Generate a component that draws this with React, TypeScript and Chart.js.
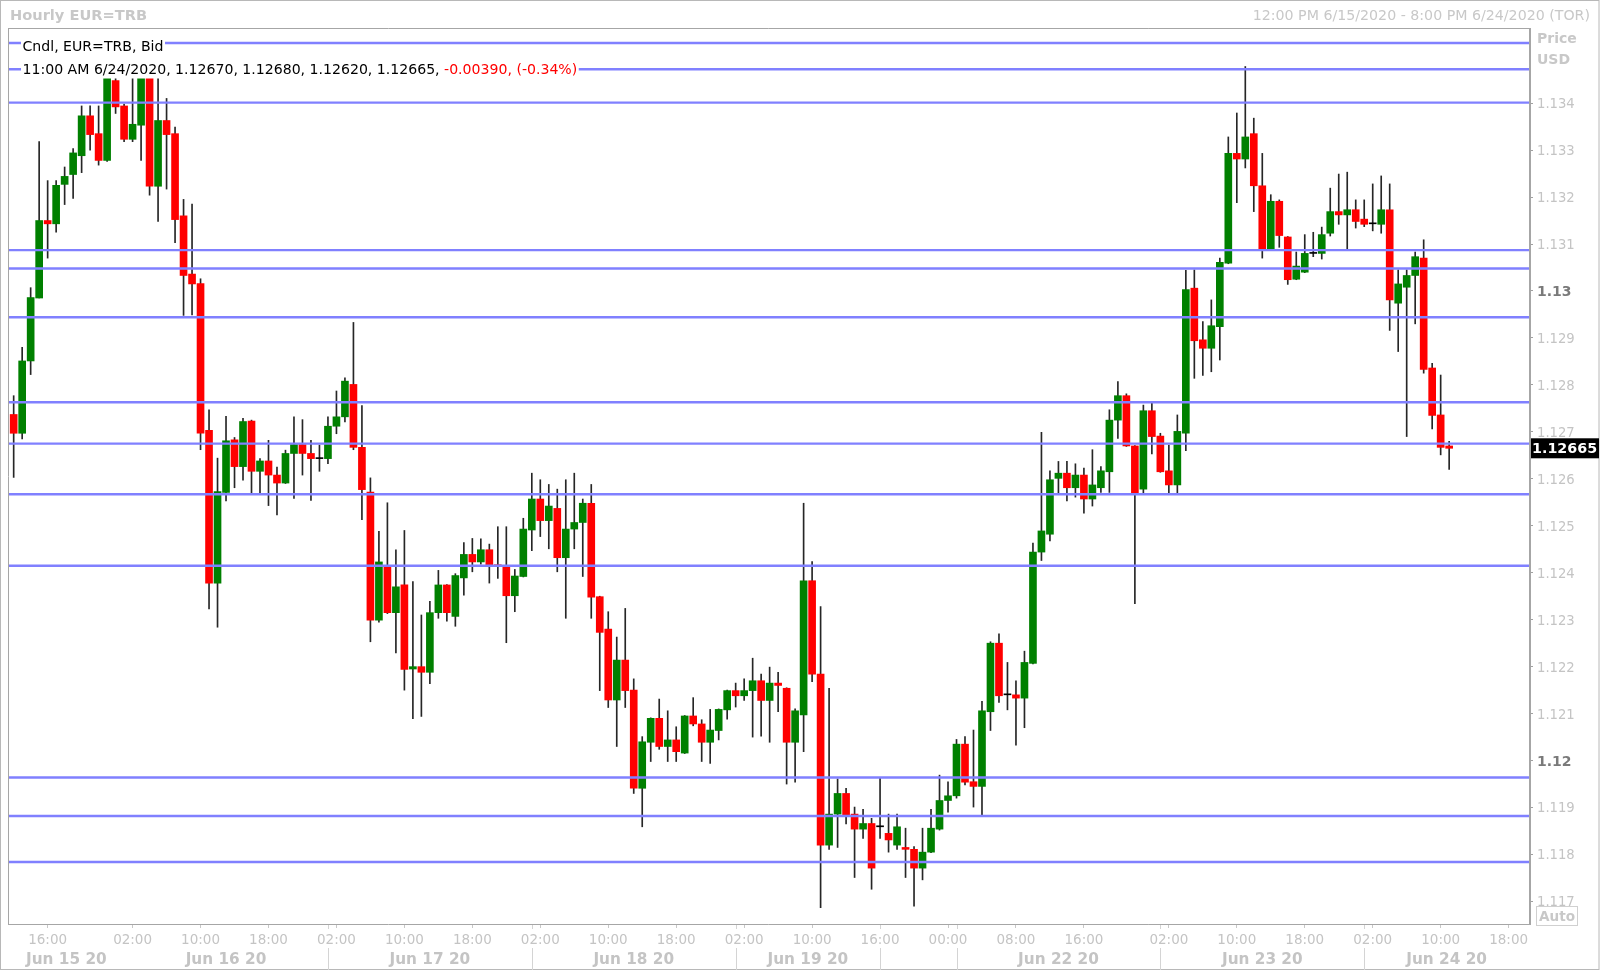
import React, { useEffect, useRef } from 'react';
import { Chart, registerables } from 'chart.js';

Chart.register(...registerables);

// ---------- data ----------
const opens = [
  1.12737,1.12697,1.12851,1.12985,1.13150,1.13143,1.13227,1.13248,1.13288,1.13373,
  1.13335,1.13278,1.13448,1.13394,1.13323,1.13353,1.13470,1.13223,1.13363,1.13335,
  1.13160,1.13036,1.13016,1.12703,1.12378,1.12571,1.12683,1.12626,1.12723,1.12616,
  1.12638,1.12608,1.12591,1.12654,1.12673,1.12654,1.12643,1.12643,1.12712,1.12732,
  1.12801,1.12667,1.12572,1.12299,1.12413,1.12315,1.12374,1.12195,1.12200,1.12188,
  1.12315,1.12374,1.12307,1.12389,1.12439,1.12423,1.12449,1.12417,1.12413,1.12351,
  1.12392,1.12491,1.12557,1.12511,1.12537,1.12432,1.12493,1.12507,1.12548,1.12349,
  1.12280,1.12129,1.12214,1.12150,1.11941,1.12039,1.12090,1.12030,1.12044,1.12016,
  1.12095,1.12078,1.12039,1.12064,1.12108,1.12149,1.12138,1.12149,1.12170,1.12128,
  1.12165,1.12154,1.12039,1.12097,1.12383,1.12184,1.11820,1.11886,1.11930,1.11886,
  1.11854,1.11866,1.11859,1.11845,1.11820,1.11815,1.11811,1.11771,1.11805,1.11854,
  1.11915,1.11925,1.12035,1.11955,1.11945,1.12104,1.12250,1.12140,1.12140,1.12133,
  1.12207,1.12444,1.12482,1.12601,1.12612,1.12581,1.12608,1.12557,1.12581,1.12615,
  1.12725,1.12777,1.12670,1.12578,1.12745,1.12691,1.12617,1.12587,1.12697,1.13006,
  1.12896,1.12878,1.12924,1.13059,1.13293,1.13281,1.13335,1.13224,1.13089,1.13191,
  1.13115,1.13025,1.13040,1.13080,1.13080,1.13123,1.13169,1.13162,1.13173,1.13153,
  1.13143,1.13142,1.13173,1.12974,1.13008,1.13033,1.13070,1.12836,1.12736,1.12670,
];
const highs = [
  1.12777,1.12880,1.13007,1.13318,1.13235,1.13235,1.13264,1.13303,1.13394,1.13394,
  1.13394,1.13490,1.13470,1.13398,1.13470,1.13485,1.13490,1.13460,1.13410,1.13349,
  1.13195,1.13185,1.13026,1.12747,1.12644,1.12733,1.12688,1.12729,1.12725,1.12643,
  1.12682,1.12625,1.12661,1.12732,1.12726,1.12682,1.12672,1.12732,1.12787,1.12815,
  1.12933,1.12756,1.12602,1.12488,1.12549,1.12449,1.12490,1.12381,1.12310,1.12339,
  1.12405,1.12375,1.12398,1.12464,1.12473,1.12472,1.12461,1.12498,1.12498,1.12407,
  1.12516,1.12612,1.12598,1.12588,1.12578,1.12598,1.12612,1.12557,1.12588,1.12350,
  1.12317,1.12263,1.12324,1.12174,1.12051,1.12091,1.12131,1.12106,1.12072,1.12096,
  1.12134,1.12087,1.12109,1.12110,1.12150,1.12165,1.12174,1.12218,1.12184,1.12199,
  1.12188,1.12155,1.12110,1.12548,1.12424,1.12328,1.12154,1.11961,1.11941,1.11901,
  1.11896,1.11877,1.11962,1.11886,1.11886,1.11856,1.11817,1.11856,1.11896,1.11969,
  1.11955,1.12045,1.12051,1.12065,1.12126,1.12253,1.12270,1.12209,1.12170,1.12233,
  1.12463,1.12699,1.12617,1.12637,1.12637,1.12632,1.12623,1.12662,1.12626,1.12747,
  1.12807,1.12781,1.12671,1.12757,1.12761,1.12697,1.12672,1.12736,1.13044,1.13045,
  1.12935,1.12981,1.13070,1.13328,1.13379,1.13478,1.13368,1.13293,1.13205,1.13194,
  1.13116,1.13083,1.13120,1.13125,1.13136,1.13219,1.13249,1.13253,1.13194,1.13194,
  1.13228,1.13245,1.13228,1.13045,1.13045,1.13083,1.13109,1.12846,1.12821,1.12680,
];
const lows = [
  1.12603,1.12685,1.12822,1.12985,1.13070,1.13125,1.13184,1.13197,1.13252,1.13300,
  1.13268,1.13276,1.13378,1.13318,1.13318,1.13278,1.13204,1.13148,1.13217,1.13103,
  1.12948,1.12949,1.12662,1.12323,1.12284,1.12553,1.12581,1.12597,1.12570,1.12570,
  1.12543,1.12523,1.12590,1.12558,1.12608,1.12554,1.12616,1.12632,1.12696,1.12721,
  1.12662,1.12513,1.12253,1.12295,1.12313,1.12229,1.12150,1.12089,1.12094,1.12164,
  1.12303,1.12297,1.12286,1.12352,1.12402,1.12418,1.12378,1.12388,1.12251,1.12317,
  1.12391,1.12447,1.12477,1.12451,1.12402,1.12303,1.12451,1.12392,1.12303,1.12149,
  1.12113,1.12030,1.12113,1.11930,1.11859,1.11998,1.12024,1.11998,1.11998,1.12015,
  1.12074,1.11998,1.11994,1.12044,1.12088,1.12114,1.12128,1.12050,1.12052,1.12039,
  1.12104,1.11950,1.11954,1.12019,1.12168,1.11687,1.11811,1.11815,1.11865,1.11751,
  1.11834,1.11726,1.11834,1.11805,1.11811,1.11751,1.11690,1.11746,1.11804,1.11852,
  1.11890,1.11920,1.11948,1.11901,1.11884,1.12064,1.12124,1.12108,1.12033,1.12070,
  1.12206,1.12426,1.12468,1.12569,1.12553,1.12561,1.12527,1.12542,1.12571,1.12571,
  1.12686,1.12669,1.12334,1.12569,1.12653,1.12614,1.12569,1.12569,1.12660,1.12814,
  1.12820,1.12828,1.12853,1.13058,1.13188,1.13262,1.13169,1.13070,1.13088,1.13093,
  1.13014,1.13024,1.13039,1.13073,1.13068,1.13117,1.13142,1.13089,1.13134,1.13137,
  1.13128,1.13123,1.12916,1.12871,1.12690,1.12930,1.12825,1.12706,1.12651,1.12620,
];
const closes = [
  1.12697,1.12851,1.12986,1.13150,1.13143,1.13225,1.13244,1.13294,1.13373,1.13333,
  1.13278,1.13465,1.13392,1.13323,1.13355,1.13465,1.13223,1.13363,1.13333,1.13152,
  1.13033,1.13015,1.12697,1.12378,1.12573,1.12681,1.12626,1.12722,1.12616,1.12638,
  1.12608,1.12591,1.12654,1.12673,1.12654,1.12643,1.12643,1.12712,1.12732,1.12808,
  1.12667,1.12577,1.12299,1.12423,1.12315,1.12370,1.12194,1.12200,1.12188,1.12315,
  1.12374,1.12315,1.12394,1.12439,1.12423,1.12449,1.12417,1.12413,1.12351,1.12393,
  1.12493,1.12557,1.12511,1.12542,1.12432,1.12493,1.12507,1.12548,1.12348,1.12273,
  1.12129,1.12214,1.12149,1.11941,1.12040,1.12090,1.12030,1.12044,1.12019,1.12095,
  1.12078,1.12039,1.12065,1.12109,1.12149,1.12138,1.12149,1.12170,1.12128,1.12165,
  1.12160,1.12039,1.12106,1.12383,1.12184,1.11820,1.11886,1.11930,1.11884,1.11854,
  1.11866,1.11771,1.11859,1.11831,1.11859,1.11811,1.11771,1.11805,1.11856,1.11915,
  1.11925,1.12035,1.11954,1.11945,1.12106,1.12250,1.12138,1.12140,1.12133,1.12209,
  1.12444,1.12489,1.12598,1.12612,1.12581,1.12608,1.12557,1.12587,1.12617,1.12725,
  1.12777,1.12670,1.12569,1.12745,1.12690,1.12615,1.12587,1.12701,1.13003,1.12894,
  1.12878,1.12926,1.13061,1.13293,1.13281,1.13328,1.13224,1.13089,1.13191,1.13118,
  1.13024,1.13053,1.13080,1.13080,1.13120,1.13169,1.13162,1.13173,1.13148,1.13142,
  1.13143,1.13173,1.12981,1.13015,1.13033,1.13073,1.12833,1.12735,1.12667,1.12665,
];

// horizontal level lines (price)
const levels = [
  1.13528, 1.13472, 1.13401, 1.13087, 1.13048, 1.12944, 1.12763,
  1.12675, 1.12567, 1.12415, 1.11964, 1.11882, 1.11784,
];

// x axis (bar index) ticks and labels
const xTickIdx = [4, 14, 22, 30, 38, 46, 54, 62, 70, 78, 86, 94, 102, 110, 118, 126, 136, 144, 152, 160, 168, 176];
const xTickLabels = ['16:00', '02:00', '10:00', '18:00', '02:00', '10:00', '18:00', '02:00', '10:00', '18:00', '02:00',
  '10:00', '16:00', '00:00', '08:00', '16:00', '02:00', '10:00', '18:00', '02:00', '10:00', '18:00'];
const dayLabels = ['Jun 15 20', 'Jun 16 20', 'Jun 17 20', 'Jun 18 20', 'Jun 19 20', 'Jun 22 20', 'Jun 23 20', 'Jun 24 20'];
const dayCenters = [6.2, 25, 49, 73, 93.5, 123, 147, 168.7];
const daySeparators = [37, 61, 85, 102, 111, 135, 159];
const X_MIN = -0.55;
const X_MAX = 178.4;

// y axis
const yTicks = [1.117, 1.118, 1.119, 1.12, 1.121, 1.122, 1.123, 1.124, 1.125, 1.126, 1.127, 1.128, 1.129, 1.13, 1.131, 1.132, 1.133, 1.134];
const Y_MIN = 1.11652;
const Y_MAX = 1.1356;
const lastPrice = 1.12665;

// texts
const titleLeft = 'Hourly EUR=TRB';
const titleRight = '12:00 PM 6/15/2020 - 8:00 PM 6/24/2020 (TOR)';
const legend1 = 'Cndl, EUR=TRB, Bid';
const legend2a = '11:00 AM 6/24/2020, 1.12670, 1.12680, 1.12620, 1.12665, ';
const legend2b = '-0.00390, (-0.34%)';

const FONT = '"DejaVu Sans", sans-serif';
const GREY = '#c4c4c4';

const isMajor = (v: number) => Math.abs(v * 100 - Math.round(v * 100)) < 1e-6;

const decorPlugin = {
  id: 'decor',
  afterDatasetDraw(chart: any, args: any) {
    if (args.index !== 1) return;
    const { ctx, chartArea: a } = chart;
    ctx.save();
    ctx.fillStyle = '#ffffff';
    ctx.fillRect(a.left, a.top, 578 - a.left, 78.5 - a.top);
    ctx.restore();
  },
  afterDraw(chart: any) {
    const { ctx, chartArea: a, scales } = chart;
    const xs = scales.x;
    const ys = scales.y;
    ctx.save();

    // outer frame
    ctx.strokeStyle = '#b8b8b8';
    ctx.lineWidth = 1;
    ctx.strokeRect(0.5, 0.5, 1598.5, 969);

    // plot frame
    ctx.strokeStyle = '#a6a6a6';
    ctx.lineWidth = 1;
    ctx.beginPath();
    ctx.moveTo(a.left - 0.5, a.top + 0.5);
    ctx.lineTo(a.right, a.top + 0.5);
    ctx.moveTo(a.left - 0.5, a.top);
    ctx.lineTo(a.left - 0.5, a.bottom + 1);
    ctx.moveTo(a.left - 0.5, a.bottom + 0.5);
    ctx.lineTo(a.right, a.bottom + 0.5);
    ctx.stroke();
    ctx.lineWidth = 2;
    ctx.beginPath();
    ctx.moveTo(a.right + 1, a.top);
    ctx.lineTo(a.right + 1, a.bottom + 1);
    ctx.stroke();

    // titles
    ctx.textBaseline = 'middle';
    ctx.fillStyle = '#c8c8c8';
    ctx.font = `bold 14.6px ${FONT}`;
    ctx.textAlign = 'left';
    ctx.fillText(titleLeft, 10, 16);
    ctx.font = `14.2px ${FONT}`;
    ctx.textAlign = 'right';
    ctx.fillText(titleRight, 1590, 16);

    // legend texts
    ctx.textAlign = 'left';
    ctx.font = `14.1px ${FONT}`;
    const w1 = ctx.measureText(legend1).width;
    ctx.fillStyle = '#ffffff';
    ctx.fillRect(21, 39, w1 + 3, 16);
    ctx.fillStyle = '#000000';
    ctx.fillText(legend1, 22.5, 47.5);
    const wa = ctx.measureText(legend2a).width;
    const wb = ctx.measureText(legend2b).width;
    ctx.fillStyle = '#ffffff';
    ctx.fillRect(21, 62, wa + wb + 3, 16);
    ctx.fillStyle = '#000000';
    ctx.fillText(legend2a, 22.5, 70.5);
    ctx.fillStyle = '#ff0000';
    ctx.fillText(legend2b, 22.5 + wa, 70.5);

    // axis captions
    ctx.fillStyle = '#c8c8c8';
    ctx.font = `bold 14px ${FONT}`;
    ctx.fillText('Price', 1537, 39);
    ctx.fillText('USD', 1537, 60.5);

    // last price tag
    const py = ys.getPixelForValue(lastPrice);
    ctx.fillStyle = '#000000';
    ctx.fillRect(a.right + 2, py - 10, 68, 20);
    ctx.fillStyle = '#ffffff';
    ctx.font = `bold 14.3px ${FONT}`;
    ctx.fillText(lastPrice.toFixed(5), a.right + 3, py + 1);

    // Auto box
    ctx.strokeStyle = '#d0d0d0';
    ctx.lineWidth = 1;
    ctx.strokeRect(1536.5, 906.5, 41, 19);
    ctx.fillStyle = '#c8c8c8';
    ctx.font = `bold 13.6px ${FONT}`;
    ctx.textAlign = 'center';
    ctx.fillText('Auto', 1557, 917);

    // day separators and labels
    ctx.strokeStyle = '#d4d4d4';
    ctx.lineWidth = 1;
    ctx.beginPath();
    daySeparators.forEach((d) => {
      const x = Math.round(xs.getPixelForValue(d)) + 0.5;
      ctx.moveTo(x, 948);
      ctx.lineTo(x, 970);
      ctx.moveTo(x, a.bottom + 1);
      ctx.lineTo(x, a.bottom + 5);
    });
    ctx.stroke();
    ctx.fillStyle = GREY;
    ctx.font = `bold 15.3px ${FONT}`;
    dayLabels.forEach((t, i) => {
      ctx.fillText(t, xs.getPixelForValue(dayCenters[i]), 960);
    });

    ctx.restore();
  },
};

export default function App() {
  const ref = useRef<HTMLCanvasElement>(null);

  useEffect(() => {
    if (!ref.current) return;
    const bodyColors = closes.map((c, i) => (c > opens[i] ? '#008000' : c < opens[i] ? '#ff0000' : '#000000'));
    const levelSets = levels.map((p) => ({
      type: 'line' as const,
      data: [{ x: X_MIN, y: p }, { x: X_MAX, y: p }],
      borderColor: '#8080ff',
      borderWidth: 2.4,
      pointRadius: 0,
      order: 1,
    }));
    const chart = new Chart(ref.current, {
      type: 'bar',
      data: {
        datasets: [
          {
            type: 'bar',
            data: lows.map((l, i) => ({ x: i, y: [l, highs[i]] })) as any,
            backgroundColor: '#262626',
            barThickness: 1,
            grouped: false,
            borderWidth: 0,
            order: 3,
          },
          {
            type: 'bar',
            data: opens.map((o, i) => ({ x: i, y: [o, closes[i]] })) as any,
            backgroundColor: bodyColors,
            barThickness: 7,
            grouped: false,
            borderWidth: 0,
            minBarLength: 1,
            order: 2,
          },
          ...levelSets,
        ] as any,
      },
      options: {
        animation: false,
        responsive: false,
        devicePixelRatio: 1,
        events: [],
        layout: { padding: { top: 28, left: 9, right: 0, bottom: 0 } },
        plugins: { legend: { display: false }, tooltip: { enabled: false } },
        scales: {
          x: {
            type: 'linear',
            position: 'bottom',
            min: X_MIN,
            max: X_MAX,
            offset: false,
            afterBuildTicks: (s: any) => {
              s.ticks = xTickIdx.map((v) => ({ value: v }));
            },
            afterFit: (s: any) => {
              s.height = 48;
            },
            ticks: {
              autoSkip: false,
              maxRotation: 0,
              minRotation: 0,
              padding: 4,
              color: GREY,
              font: { family: 'DejaVu Sans', size: 13.5 },
              callback: (v: any) => {
                const k = xTickIdx.indexOf(Number(v));
                return k >= 0 ? xTickLabels[k] : '';
              },
            },
            grid: { drawOnChartArea: false, drawTicks: true, tickLength: 4, color: '#c8c8c8', offset: false },
            border: { display: false },
          },
          y: {
            type: 'linear',
            position: 'right',
            min: Y_MIN,
            max: Y_MAX,
            afterBuildTicks: (s: any) => {
              s.ticks = yTicks.map((v) => ({ value: v }));
            },
            afterFit: (s: any) => {
              s.width = 71;
            },
            ticks: {
              padding: 4,
              labelOffset: 1.5,
              callback: (v: any) => (isMajor(Number(v)) ? Number(v).toFixed(2) : Number(v).toFixed(3)),
              color: (c: any) => (c.tick && isMajor(c.tick.value) ? '#7a7a7a' : '#c4c4c4'),
              font: (c: any) =>
                c.tick && isMajor(c.tick.value)
                  ? { family: 'DejaVu Sans', size: 14, weight: 'bold' }
                  : { family: 'DejaVu Sans', size: 13.2 },
            },
            grid: { drawOnChartArea: false, drawTicks: true, tickLength: 4, color: '#a0a0a0' },
            border: { display: false },
          },
        },
      } as any,
      plugins: [decorPlugin],
    });
    return () => chart.destroy();
  }, []);

  return (
    <div style={{ position: 'absolute', left: 0, top: 0, width: 1600, height: 972, background: '#ffffff' }}>
      <canvas ref={ref} width={1600} height={972} style={{ display: 'block', width: 1600, height: 972 }} />
    </div>
  );
}
